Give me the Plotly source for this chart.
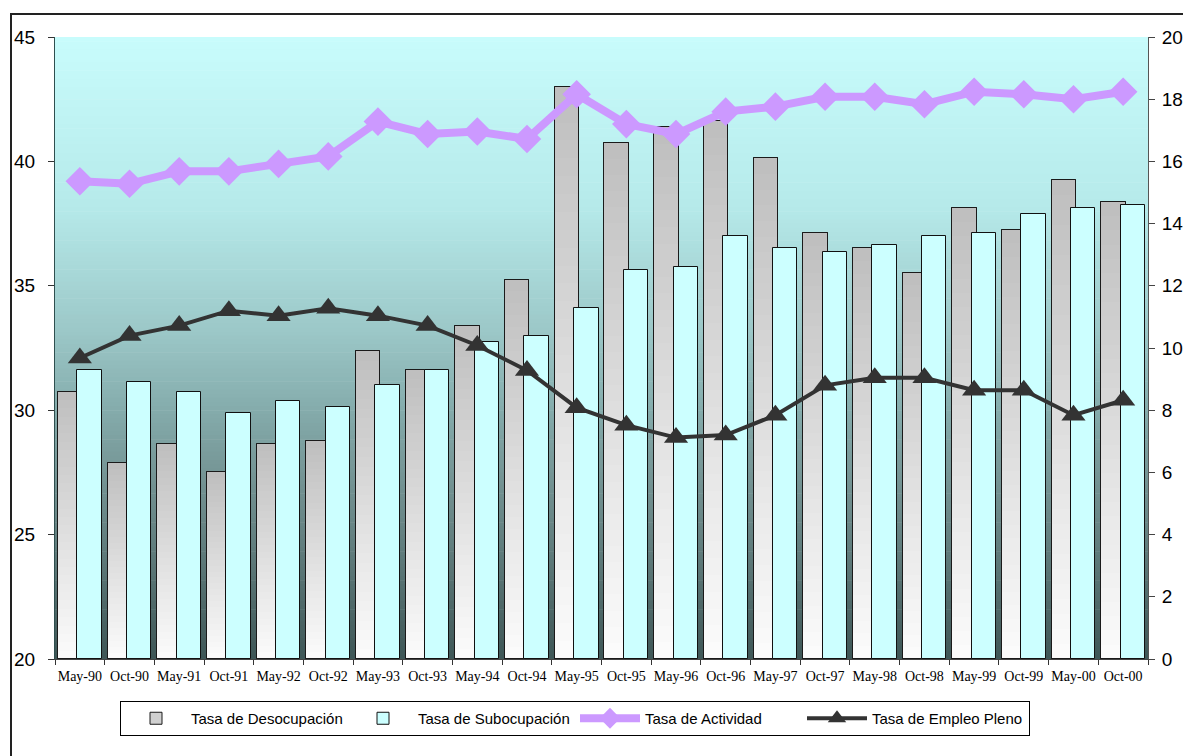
import plotly.graph_objects as go

categorias = ['May-90', 'Oct-90', 'May-91', 'Oct-91', 'May-92', 'Oct-92', 'May-93', 'Oct-93',
              'May-94', 'Oct-94', 'May-95', 'Oct-95', 'May-96', 'Oct-96', 'May-97', 'Oct-97',
              'May-98', 'Oct-98', 'May-99', 'Oct-99', 'May-00', 'Oct-00']

desocupacion = [8.6, 6.3, 6.9, 6.0, 6.9, 7.0, 9.9, 9.3, 10.7, 12.2, 18.4, 16.6,
                17.1, 17.3, 16.1, 13.7, 13.2, 12.4, 14.5, 13.8, 15.4, 14.7]
subocupacion = [9.3, 8.9, 8.6, 7.9, 8.3, 8.1, 8.8, 9.3, 10.2, 10.4, 11.3, 12.5,
                12.6, 13.6, 13.2, 13.1, 13.3, 13.6, 13.7, 14.3, 14.5, 14.6]
actividad = [39.2, 39.1, 39.6, 39.6, 39.9, 40.2, 41.6, 41.1, 41.2, 40.9, 42.7, 41.5,
             41.1, 42.0, 42.2, 42.6, 42.6, 42.3, 42.8, 42.7, 42.5, 42.8]
empleo_pleno = [32.1, 33.0, 33.4, 34.0, 33.8, 34.1, 33.8, 33.4, 32.6, 31.6, 30.1, 29.4,
                28.9, 29.0, 29.8, 31.0, 31.3, 31.3, 30.8, 30.8, 29.8, 30.4]

left_ticks = [20, 25, 30, 35, 40, 45]
right_ticks = [0, 2, 4, 6, 8, 10, 12, 14, 16, 18, 20]

GRAY_OFF, BAR_W, CYAN_OFF = -0.44, 0.49, -0.05
FONT = 'Liberation Sans'

fig = go.Figure()

# Desocupación: base (legend) bar
fig.add_trace(go.Bar(
    x=categorias, y=desocupacion, name='Tasa de Desocupación', yaxis='y',
    offset=GRAY_OFF, width=BAR_W,
    marker=dict(color='#d0d0d0', line=dict(color='#1a1a1a', width=1), opacity=1),
    hoverinfo='x+y'))

# vertical gradient inside each gray bar (white at bottom -> gray at top)
N = 32
c_bot = (252, 252, 252)
c_top = (190, 190, 190)
for j in range(N):
    f = (j + 0.5) / N
    col = 'rgb(%d,%d,%d)' % tuple(round(c_bot[k] + (c_top[k] - c_bot[k]) * f) for k in range(3))
    fig.add_trace(go.Bar(
        x=categorias, y=[v * (1 - j / N) for v in desocupacion],
        base=[v * j / N for v in desocupacion], yaxis='y',
        offset=GRAY_OFF, width=BAR_W, showlegend=False, hoverinfo='skip',
        marker=dict(color=col, line=dict(width=0), opacity=1)))

# outline
fig.add_trace(go.Bar(
    x=categorias, y=desocupacion, yaxis='y', offset=GRAY_OFF, width=BAR_W,
    showlegend=False, hoverinfo='skip',
    marker=dict(color='rgba(0,0,0,0)', line=dict(color='#1a1a1a', width=1))))

fig.add_trace(go.Bar(
    x=categorias, y=subocupacion, name='Tasa de Subocupación', yaxis='y',
    offset=CYAN_OFF, width=BAR_W,
    marker=dict(color='#ccffff', line=dict(color='#111111', width=1), opacity=1)))

fig.add_trace(go.Scatter(
    x=categorias, y=actividad, name='Tasa de Actividad', yaxis='y2',
    mode='lines+markers',
    line=dict(color='#cc99ff', width=8),
    marker=dict(symbol='diamond', size=22, color='#cc99ff')))

fig.add_trace(go.Scatter(
    x=categorias, y=empleo_pleno, name='Tasa de Empleo Pleno', yaxis='y2',
    mode='lines+markers',
    line=dict(color='#333333', width=4),
    marker=dict(symbol='triangle-up', size=21, color='#333333')))

# background gradient of plot area
stops = [(0.0, (200, 252, 252)), (0.27, (182, 234, 234)), (0.47, (156, 200, 200)),
         (0.58, (136, 176, 176)), (0.68, (120, 154, 154)), (0.75, (110, 140, 140)),
         (1.0, (62, 86, 86))]


def bg_color(t):
    for (t0, c0), (t1, c1) in zip(stops[:-1], stops[1:]):
        if t0 <= t <= t1:
            u = (t - t0) / (t1 - t0)
            return 'rgb(%d,%d,%d)' % tuple(round(c0[k] + (c1[k] - c0[k]) * u) for k in range(3))
    return 'rgb(%d,%d,%d)' % stops[-1][1]


shapes = []
NB = 150
for i in range(NB):
    t = (i + 0.5) / NB  # fraction from top
    shapes.append(dict(type='rect', xref='paper', yref='paper', x0=0, x1=1,
                       y0=1 - (i + 1) / NB - 0.001, y1=1 - i / NB,
                       fillcolor=bg_color(t), line=dict(width=0), layer='below'))

# outer frame
PW, PH = 1093, 622
shapes.append(dict(type='rect', xref='paper', yref='paper',
                   x0=(11 - 55) / PW, x1=(1200 - 55) / PW,
                   y0=(659 - 770) / PH, y1=(659 - 14) / PH,
                   line=dict(color='#222222', width=2), fillcolor='rgba(0,0,0,0)', layer='above'))

fig.update_layout(
    width=1183, height=756,
    margin=dict(l=55, r=35, t=37, b=97, autoexpand=False),
    paper_bgcolor='white', plot_bgcolor='rgba(0,0,0,0)',
    barmode='overlay', bargap=0,
    shapes=shapes,
    showlegend=True,
    legend=dict(orientation='h', x=(575 - 55) / PW, xanchor='center',
                y=-42 / PH, yanchor='top',
                bordercolor='#000000', borderwidth=1, bgcolor='white',
                font=dict(family=FONT, size=15, color='black'),
                itemwidth=60, traceorder='normal', entrywidth=152),
    xaxis=dict(type='category', range=[-0.5, len(categorias) - 0.5],
               tickson='boundaries', ticks='outside', ticklen=5, tickcolor='#333333',
               showline=True, linecolor='#444444', linewidth=1, showgrid=False,
               tickangle=0, automargin=False, ticklabelstandoff=4,
               tickfont=dict(family='Liberation Serif', size=14, color='black'),
               zeroline=False),
    yaxis=dict(side='right', range=[0, 20], tickvals=right_ticks,
               ticks='outside', ticklen=6, tickcolor='#444444',
               showline=True, linecolor='#555555', linewidth=1, showgrid=False,
               zeroline=False, ticklabelstandoff=3, automargin=False,
               tickfont=dict(family=FONT, size=19, color='black')),
    yaxis2=dict(side='left', overlaying='y', range=[20, 45], tickvals=left_ticks,
                ticks='outside', ticklen=6, tickcolor='#333333',
                showline=True, linecolor='#2f4f4f', linewidth=1, showgrid=False,
                zeroline=False, ticklabelstandoff=9, automargin=False,
                tickfont=dict(family=FONT, size=19, color='black')),
)

fig.write_html('out.html')
